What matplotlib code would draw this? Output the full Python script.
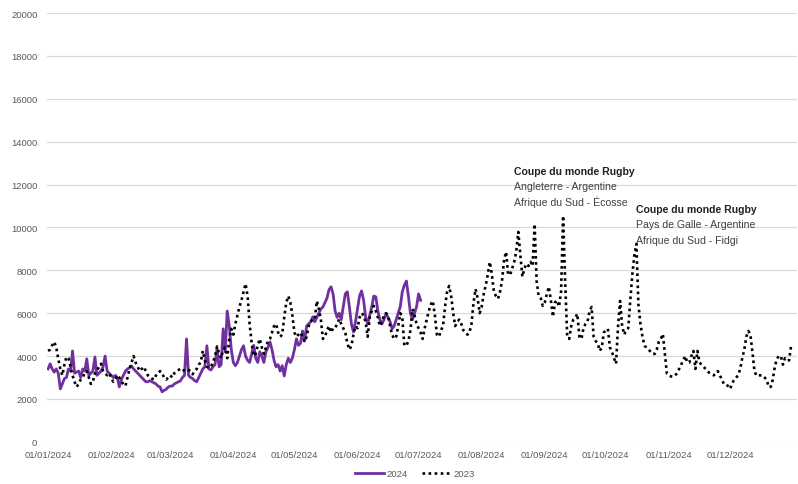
import matplotlib
matplotlib.use("Agg")
import matplotlib.pyplot as plt
import matplotlib.dates as mdates
import pandas as pd

plt.rcParams['font.family'] = ['Liberation Sans', 'DejaVu Sans']

# daily visits, 2023 season mapped onto the 2024 calendar
y2023 = [
    4240, 4300, 4500, 4660, 4400, 3870, 3400, 3100, 3600, 3960,
    3900, 3500, 3100, 2800, 2560, 2700, 2900, 3000, 3200, 3300,
    3000, 2700, 2800, 3200, 3300, 3500, 3640, 3300, 3200, 3100,
    3200, 3000, 2800, 2900, 3100, 3000, 2800, 2700, 2600, 3000,
    3400, 3700, 4000, 3700, 3500, 3300, 3400, 3500, 3300, 3100,
    3000, 2950, 2900, 3100, 3200, 3300, 3200, 3000, 2900, 3000,
    3100, 3000, 3200, 3300, 3350, 3400, 3300, 3350, 3400, 3350,
    3300, 3150, 3300, 3400, 3600, 3700, 4240, 3800, 3500, 3450,
    3500, 3700, 4000, 4450, 4100, 3900, 4300, 4400, 3900, 4800,
    5270, 5000, 5500, 5900, 6300, 6600, 7000, 7370, 6800, 5500,
    4600, 4000, 4100, 4500, 4800, 4400, 4100, 4400, 4700, 4800,
    5100, 5400, 5500, 5100, 4900, 5000, 5800, 6500, 6800, 6500,
    5900, 5100, 4900, 5000, 5100, 4900, 4660, 4900, 5400, 5600,
    5700, 5700, 6570, 6200, 5700, 4800, 4900, 5200, 5400, 5100,
    5300, 5300, 5500, 5730, 5500, 5300, 5100, 4600, 4300, 4480,
    5000, 5400, 5300, 5800, 6000, 5900, 5600, 4900, 5800, 6100,
    6340, 6100, 5800, 5400, 5600, 5900, 6000, 5900, 5400, 5000,
    4800, 4900, 5400, 6000, 5800, 4500, 4480, 4700, 5200, 6200,
    5900, 5500, 5300, 5100, 4800, 5300, 5700, 6100, 6400, 6570,
    5900, 5000, 4900, 5200, 5400, 6300, 7000, 7270, 6800, 6000,
    5400, 5600, 5700, 5500, 5200, 5130, 5000, 5100, 5500, 6500,
    7130, 6700, 6000, 6300, 6900, 7300, 7800, 8390, 7800, 7000,
    6800, 6670, 7000, 7500, 8500, 8860, 7800, 7800, 8100, 8400,
    8900, 9790, 8700, 7700, 8100, 8300, 8200, 8400, 8200, 10160,
    7500, 6800, 6700, 6340, 6500, 6900, 7230, 6600, 5830, 6500,
    6600, 6300, 7000, 10540, 7500, 4940, 4800, 5400, 5700, 5800,
    5970, 4900, 4800, 5300, 5500, 5600, 6100, 6290, 4900, 4700,
    4600, 4240, 4400, 5100, 5200, 5270, 4400, 4200, 3900, 3640,
    5400, 6570, 5400, 5000, 5200, 5300, 6600, 7800, 8700, 9230,
    6400, 5500, 4900, 4480, 4400, 4300, 4200, 4100, 4100, 4300,
    4660, 4800, 5030, 4100, 3170, 3100, 3050, 3030, 3100, 3200,
    3400, 3600, 3800, 4000, 3700, 3700, 4000, 4240, 3400, 4240,
    3700, 3600, 3500, 3400, 3300, 3200, 3150, 3100, 3200, 3300,
    3100, 2900, 2700, 2700, 2600, 2470, 2700, 2900, 3000, 3100,
    3400, 3900, 4300, 4900, 5170, 5000, 4200, 3300, 3080, 3100,
    3100, 3100, 3000, 2900, 2560, 2560, 2900, 3500, 3870, 4000,
    4000, 3600, 3900, 3800, 3800, 4480,
]

y2024 = [
    3400, 3640, 3400, 3250, 3400, 3200, 2470, 2700, 2950, 3000,
    3400, 3300, 4240, 3200, 3250, 3300, 3000, 3400, 3300, 3870,
    3100, 3200, 3300, 3960, 3100, 3200, 3300, 3500, 4000, 3300,
    3200, 3100, 3000, 3100, 3000, 2560, 2900, 3100, 3300, 3400,
    3450, 3540, 3400, 3300, 3200, 3100, 3000, 2900, 2800, 2800,
    2850, 2800, 2750, 2700, 2600, 2560, 2330, 2400, 2450, 2550,
    2600, 2600, 2700, 2750, 2800, 2840, 3000, 3100, 4800, 3100,
    3000, 2950, 2850, 2800, 3000, 3200, 3400, 3500, 4480, 3400,
    3350, 3500, 3600, 4340, 3500, 3600, 5270, 4200, 6100, 5400,
    4300, 3700, 3550, 3700, 4000, 4300, 4480, 4000, 3800, 3700,
    4100, 4500, 3900, 3700, 4200, 4000, 3700, 4200, 4400, 4660,
    4300, 3800, 3500, 3600, 3300, 3550, 3070, 3600, 3900, 3700,
    3900, 4300, 4800, 4500, 4600, 5170, 4700, 5400, 5500, 5600,
    5830, 5600, 5800, 6000, 6200, 6290, 6500, 6700, 7100, 7230,
    6900, 6100, 5800, 6000, 5700, 6300, 6900, 7000, 6300, 5500,
    5120, 5600, 6200, 6800, 7040, 6600, 5800, 5500, 5900, 6300,
    6800, 6760, 6100, 5700, 5500, 5700, 6000, 5800, 5600, 5270,
    5400, 5700, 6000, 6300, 7000, 7300, 7500, 6800, 6000, 5700,
    6000, 6300, 6900, 6600,
]

d2023 = pd.date_range("2024-01-01", periods=len(y2023), freq="D")
d2024 = pd.date_range("2024-01-01", periods=len(y2024), freq="D")

fig = plt.figure(figsize=(7.98, 4.85), dpi=100)
ax = fig.add_axes([0.059, 0.087, 0.94, 0.884])

ax.plot(d2024, y2024, color="#7030a0", lw=2.0, label="2024", zorder=3)
ax.plot(d2023, y2023, color="black", lw=1.9, linestyle=(0, (1, 1.3)),
        label="2023", zorder=4)

ax.set_ylim(0, 20000)
ax.set_yticks(range(0, 20001, 2000))
ax.set_xlim(pd.Timestamp("2023-12-31 12:00"), pd.Timestamp("2025-01-03"))
ax.set_xticks(pd.date_range("2024-01-01", periods=12, freq="MS"))
ax.xaxis.set_major_formatter(mdates.DateFormatter("%d/%m/%Y"))

ax.grid(axis="y", color="#d9d9d9", lw=0.9)
ax.set_axisbelow(True)
for s in ax.spines.values():
    s.set_visible(False)
ax.tick_params(length=0, labelsize=6.8, labelcolor="#595959")
ax.tick_params(axis="y", pad=7)
ax.tick_params(axis="x", pad=6)

# annotations for the rugby world cup peaks
ax.text(pd.Timestamp("2024-08-17"), 12650, "Coupe du monde Rugby", fontsize=7.6,
        fontweight="bold", va="center", color="#222222")
ax.text(pd.Timestamp("2024-08-17"), 11920, "Angleterre - Argentine", fontsize=7.6,
        va="center", color="#404040")
ax.text(pd.Timestamp("2024-08-17"), 11220, "Afrique du Sud - Écosse", fontsize=7.6,
        va="center", color="#404040")
ax.text(pd.Timestamp("2024-10-16"), 10860, "Coupe du monde Rugby", fontsize=7.6,
        fontweight="bold", va="center", color="#222222")
ax.text(pd.Timestamp("2024-10-16"), 10160, "Pays de Galle - Argentine", fontsize=7.6,
        va="center", color="#404040")
ax.text(pd.Timestamp("2024-10-16"), 9420, "Afrique du Sud - Fidgi", fontsize=7.6,
        va="center", color="#404040")

fig.legend(loc="lower center", bbox_to_anchor=(0.52, -0.005), ncol=2, frameon=False,
           fontsize=6.8, handlelength=3.0, handletextpad=0.3, columnspacing=1.5,
           labelcolor="#595959")

plt.savefig("out.png", dpi=100)
